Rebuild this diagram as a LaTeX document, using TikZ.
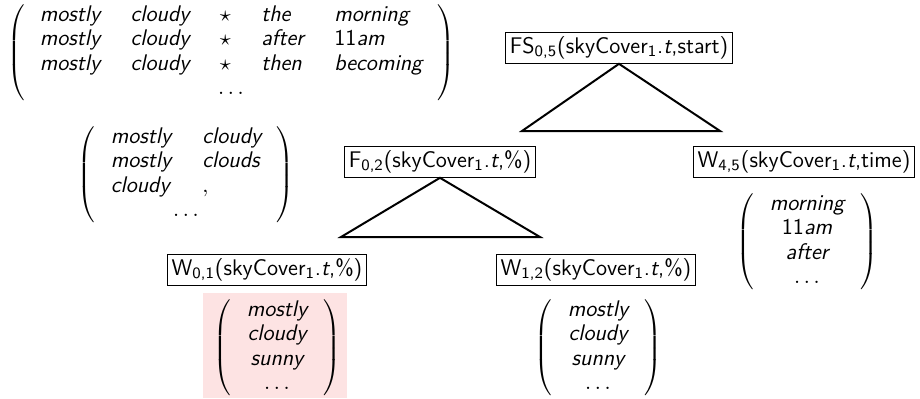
\documentclass[tikz,border=0pt]{standalone}
\usepackage{fontspec}
\usetikzlibrary{calc}
\definecolor{pinkbg}{RGB}{253,227,227}
\newcommand\wi[1]{\textit{#1}}
\newcommand\fsz{\fontsize{11.3}{12.3}\selectfont\sffamily}
\tikzset{
  lbl/.style={draw=black, line width=0.5pt, inner sep=2pt, font=\fsz},
  mat/.style={inner sep=0pt, font=\fsz},
  tri/.style={line width=1pt, line join=miter}
}
\begin{document}
\begin{tikzpicture}[x=0.5pt, y=-0.5pt]
\useasboundingbox (0,0) rectangle (920,398);
\fill[pinkbg] (203,293) rectangle (347,398);

% top-left matrix
\node[mat] (m1) at (231,53) {$\setlength\arraycolsep{7.6pt}\left(\begin{array}{llcll}
\wi{mostly} & \wi{cloudy} & \star & \wi{the} & \wi{morning}\\
\wi{mostly} & \wi{cloudy} & \star & \wi{after} & \textup{11}\wi{am}\\
\wi{mostly} & \wi{cloudy} & \star & \wi{then} & \wi{becoming}\\
\multicolumn{5}{c}{\dots}
\end{array}\right)$};

% middle-left matrix
\node[mat] (m2) at (186,175) {$\setlength\arraycolsep{7.8pt}\left(\begin{array}{ll}
\wi{mostly} & \wi{cloudy}\\
\wi{mostly} & \wi{clouds}\\
\wi{cloudy} & ,\\
\multicolumn{2}{c}{\dots}
\end{array}\right)$};

% tree
\node[lbl] (fs) at (619,48) {FS\textsubscript{0,5}(skyCover\textsubscript{1}.\textit{t},start)};
\coordinate (t1l) at (522,131);
\coordinate (t1r) at (720,131);
\draw[tri] (fs.south) -- (t1l) -- (t1r) -- cycle;

\node[lbl] (f) at (440,162) {F\textsubscript{0,2}(skyCover\textsubscript{1}.\textit{t},\%)};
\node[lbl] (w45) at (804,162) {W\textsubscript{4,5}(skyCover\textsubscript{1}.\textit{t},time)};

\coordinate (t2l) at (341,237);
\coordinate (t2r) at (540,237);
\draw[tri] (f.south) -- (t2l) -- (t2r) -- cycle;

\node[lbl] (w01) at (267,270) {W\textsubscript{0,1}(skyCover\textsubscript{1}.\textit{t},\%)};
\node[lbl] (w12) at (596,270) {W\textsubscript{1,2}(skyCover\textsubscript{1}.\textit{t},\%)};

\node[mat] (m45) at (807,242) {$\setlength\arraycolsep{8pt}\left(\begin{array}{c}
\wi{morning}\\ \textup{11}\wi{am}\\ \wi{after}\\ \dots
\end{array}\right)$};

\node[mat] (m01) at (277,348) {$\setlength\arraycolsep{8pt}\left(\begin{array}{c}
\wi{mostly}\\ \wi{cloudy}\\ \wi{sunny}\\ \dots
\end{array}\right)$};

\node[mat] (m12) at (598,348) {$\setlength\arraycolsep{8pt}\left(\begin{array}{c}
\wi{mostly}\\ \wi{cloudy}\\ \wi{sunny}\\ \dots
\end{array}\right)$};
\end{tikzpicture}
\end{document}
